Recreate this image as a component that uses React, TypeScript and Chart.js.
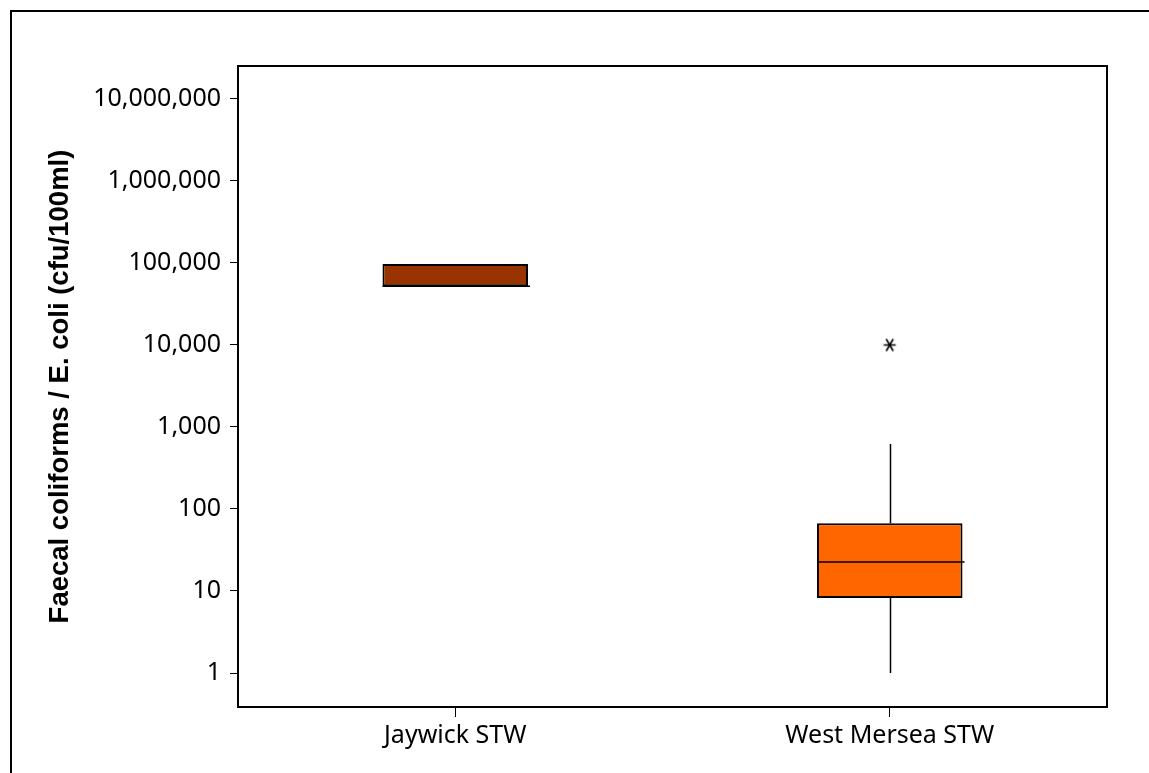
import React, { useEffect, useRef } from 'react';
import { Chart, registerables } from 'chart.js';

Chart.register(...registerables);

const CATEGORIES = ['Jaywick STW', 'West Mersea STW'];
const Q1 = [52000, 8.2];
const Q3 = [97000, 67];
const MEDIAN = [52000, 22.6];
const WHISKER_LOW = [52000, 1];
const WHISKER_HIGH = [97000, 620];
const OUTLIERS = [null, 10000];
const BOX_COLORS = ['#993300', '#FF6600'];
const Y_TICKS = [1, 10, 100, 1000, 10000, 100000, 1000000, 10000000];
const Y_MIN = 0.385;
const Y_MAX = 2.52e7;
const Y_TITLE = 'Faecal coliforms / E. coli (cfu/100ml)';

const TICK_FONT = { family: '"Noto Sans", sans-serif', size: 25 };

function makeAsterisk(): HTMLCanvasElement {
  const c = document.createElement('canvas');
  c.width = 15;
  c.height = 15;
  const g = c.getContext('2d')!;
  g.strokeStyle = '#000';
  g.lineWidth = 1.6;
  g.beginPath();
  g.moveTo(1.5, 7.5);
  g.lineTo(13.5, 7.5);
  g.moveTo(4, 1.5);
  g.lineTo(11, 13.5);
  g.moveTo(11, 1.5);
  g.lineTo(4, 13.5);
  g.stroke();
  return c;
}

const boxPlugin = {
  id: 'boxExtras',
  beforeDraw(chart: any) {
    const ctx = chart.ctx;
    ctx.save();
    ctx.strokeStyle = '#000';
    ctx.lineWidth = 2;
    ctx.beginPath();
    ctx.moveTo(11, chart.height + 5);
    ctx.lineTo(11, 11);
    ctx.lineTo(chart.width + 5, 11);
    ctx.stroke();
    ctx.restore();
  },
  afterDatasetsDraw(chart: any) {
    const ctx = chart.ctx;
    const ys = chart.scales.y;
    const meta = chart.getDatasetMeta(0);
    ctx.save();
    ctx.strokeStyle = '#000';
    ctx.lineWidth = 1.5;
    meta.data.forEach((bar: any, i: number) => {
      const x = Math.round(bar.x) + 0.5;
      const half = bar.width / 2;
      ctx.beginPath();
      ctx.moveTo(x, ys.getPixelForValue(Q3[i]));
      ctx.lineTo(x, ys.getPixelForValue(WHISKER_HIGH[i]));
      ctx.moveTo(x, ys.getPixelForValue(Q1[i]));
      ctx.lineTo(x, ys.getPixelForValue(WHISKER_LOW[i]));
      const my = ys.getPixelForValue(MEDIAN[i]);
      ctx.moveTo(bar.x - half, my);
      ctx.lineTo(bar.x + half + 2, my);
      ctx.stroke();
    });
    const a = chart.chartArea;
    ctx.lineWidth = 2;
    ctx.strokeRect(a.left, a.top, a.right - a.left, a.bottom - a.top);
    ctx.restore();
  },
};

export default function App() {
  const ref = useRef<HTMLCanvasElement>(null);
  useEffect(() => {
    if (!ref.current) return;
    const chart = new Chart(ref.current, {
      type: 'bar',
      data: {
        labels: CATEGORIES,
        datasets: [
          {
            type: 'bar',
            data: CATEGORIES.map((_, i) => [Q1[i], Q3[i]]) as any,
            backgroundColor: BOX_COLORS,
            borderColor: '#000',
            borderWidth: 2,
            borderSkipped: false,
            barPercentage: 0.335,
            categoryPercentage: 1,
          },
          {
            type: 'line',
            data: OUTLIERS as any,
            showLine: false,
            pointStyle: makeAsterisk() as any,
            pointRadius: 7,
          } as any,
        ],
      },
      options: {
        animation: false,
        responsive: true,
        maintainAspectRatio: false,
        layout: { padding: { top: 66, right: 42, left: 0, bottom: 0 } },
        plugins: { legend: { display: false }, tooltip: { enabled: false } },
        scales: {
          x: {
            type: 'category',
            offset: true,
            afterFit: (s: any) => { s.height = 66; },
            grid: { offset: false, drawOnChartArea: false, drawTicks: true, tickLength: 10, color: '#000' },
            border: { display: false },
            ticks: { color: '#000', font: TICK_FONT, padding: 4, maxRotation: 0 },
          },
          y: {
            type: 'logarithmic',
            min: Y_MIN,
            max: Y_MAX,
            afterFit: (s: any) => { s.width = 238; },
            afterBuildTicks: (s: any) => { s.ticks = Y_TICKS.map((v) => ({ value: v })); },
            grid: { drawOnChartArea: false, drawTicks: true, tickLength: 8, color: '#000' },
            border: { display: false },
            ticks: {
              color: '#000',
              font: TICK_FONT,
              padding: 9,
              callback: (v: any) => Number(v).toLocaleString('en-US'),
            },
            title: {
              display: true,
              text: Y_TITLE,
              color: '#000',
              font: { family: '"Liberation Sans", Arial, sans-serif', size: 27.5, weight: 'bold' },
              padding: { top: 44, bottom: 0 },
            },
          },
        },
      },
      plugins: [boxPlugin],
    });
    return () => chart.destroy();
  }, []);
  return (
    <div style={{ position: 'absolute', left: 0, top: 0, width: 1149, height: 773, background: '#fff' }}>
      <canvas ref={ref} />
    </div>
  );
}
